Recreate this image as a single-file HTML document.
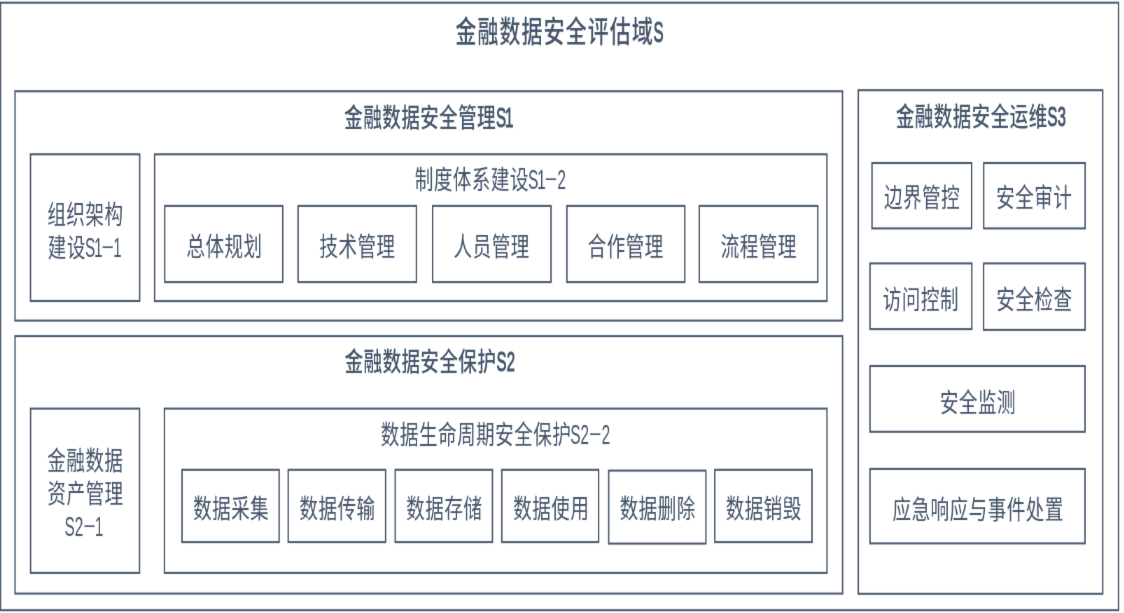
<!DOCTYPE html>
<html lang="zh-CN">
<head>
<meta charset="utf-8">
<title>金融数据安全评估域S</title>
<style>
html,body{margin:0;padding:0;background:#fff;}
body{width:1124px;height:613px;overflow:hidden;position:relative;}
#stage{position:absolute;left:0;top:0;width:1605.7px;height:613px;transform:scale(0.7,1);transform-origin:0 0;will-change:transform;filter:url(#soft);
  font-family:"Liberation Sans","Noto Sans CJK SC",sans-serif;color:#44546a;}
.bx{position:absolute;left:0;top:0;overflow:hidden;}
.t,.h1,.h2{position:absolute;white-space:nowrap;transform:translate(-50%,-50%);line-height:1;font-size:26.5px;font-weight:400;letter-spacing:.7px;text-indent:.7px;}
.h1{font-size:30px;font-weight:500;letter-spacing:1.5px;text-indent:1.5px;}
.h2{font-weight:500;letter-spacing:.6px;text-indent:.6px;}
.l{display:inline-block;text-indent:0;letter-spacing:0;transform:scale(0.82,1.04);transform-origin:0 70%;margin-left:-.9px;}
.h1 .l,.h2 .l{font-weight:400;-webkit-text-stroke:1px #44546a;font-size:1.04em;transform:scale(0.78,1);margin-left:0px;}
.h1 .l{font-size:.98em;transform:scale(.73,1);margin-left:-.6px;}
.n{margin:0 -.07em;}
.d{display:inline-block;transform:scale(2.7,.75) translateY(-.1em);margin:0 .25em;}
</style>
</head>
<body>
<svg width="0" height="0" style="position:absolute" aria-hidden="true"><defs><filter id="soft" x="0" y="0" width="100%" height="100%" color-interpolation-filters="sRGB"><feConvolveMatrix order="3" kernelMatrix="0.0055 0.0990 0.0055 0.0390 0.7020 0.0390 0.0055 0.0990 0.0055" edgeMode="duplicate" preserveAlpha="false"/></filter></defs></svg>
<div id="stage">
<svg class="bx" width="1605.7" height="613" viewBox="0 0 1605.7 613" fill="none" stroke="#44546a" stroke-width="2.0">
<rect x="0.64" y="2.70" width="1597.21" height="607.50"/>
<rect x="21.43" y="91.25" width="1182.14" height="229.35"/>
<rect x="43.57" y="154.30" width="155.93" height="146.70"/>
<rect x="220.86" y="154.30" width="960.43" height="146.80"/>
<rect x="235.29" y="205.90" width="168.64" height="76.20"/>
<rect x="425.86" y="205.90" width="169.00" height="76.20"/>
<rect x="618.00" y="205.90" width="169.14" height="76.20"/>
<rect x="809.86" y="205.90" width="168.43" height="76.20"/>
<rect x="998.93" y="205.90" width="169.29" height="76.20"/>
<rect x="21.43" y="336.10" width="1182.29" height="257.50"/>
<rect x="43.71" y="408.60" width="155.57" height="164.30"/>
<rect x="234.86" y="408.60" width="946.57" height="164.30"/>
<rect x="260.00" y="469.80" width="138.71" height="72.30"/>
<rect x="411.71" y="469.80" width="139.14" height="72.30"/>
<rect x="564.57" y="469.80" width="138.86" height="72.30"/>
<rect x="716.86" y="469.80" width="138.29" height="72.30"/>
<rect x="869.57" y="470.60" width="138.86" height="73.00"/>
<rect x="1021.14" y="469.80" width="138.86" height="72.30"/>
<rect x="1226.14" y="90.20" width="349.14" height="503.60"/>
<rect x="1245.71" y="163.00" width="142.29" height="65.40"/>
<rect x="1405.29" y="163.00" width="144.86" height="65.40"/>
<rect x="1242.86" y="263.40" width="145.43" height="65.70"/>
<rect x="1405.14" y="263.40" width="145.00" height="66.50"/>
<rect x="1242.86" y="366.00" width="307.14" height="65.80"/>
<rect x="1242.86" y="468.90" width="307.14" height="74.50"/>
</svg>
<div class="h1" style="left:798.53px;top:32.23px;">金融数据安全评估域<span class="l" style="margin-right:-0.176em">S</span></div>
<div class="h2" style="left:611.49px;top:118.17px;">金融数据安全管理<span class="l" style="margin-right:-0.248em">S<span class="n">1</span></span></div>
<div class="t" style="left:121.69px;top:214.53px;">组织架构</div>
<div class="t" style="left:120.14px;top:248.01px;">建设<span class="l" style="margin-right:-0.420em">S<span class="n">1</span><span class="d">-</span><span class="n">1</span></span></div>
<div class="t" style="left:700.17px;top:180.40px;">制度体系建设<span class="l" style="margin-right:-0.445em">S<span class="n">1</span><span class="d">-</span>2</span></div>
<div class="t" style="left:320.34px;top:246.74px;">总体规划</div>
<div class="t" style="left:510.30px;top:246.99px;">技术管理</div>
<div class="t" style="left:702.06px;top:247.37px;">人员管理</div>
<div class="t" style="left:893.53px;top:246.57px;">合作管理</div>
<div class="t" style="left:1083.63px;top:246.52px;">流程管理</div>
<div class="h2" style="left:613.34px;top:362.14px;">金融数据安全保护<span class="l" style="margin-right:-0.280em">S2</span></div>
<div class="t" style="left:121.59px;top:461.25px;">金融数据</div>
<div class="t" style="left:121.84px;top:494.10px;">资产管理</div>
<div class="t" style="left:119.70px;top:527.10px;"><span class="l" style="margin-right:-0.445em">S2<span class="d">-</span><span class="n">1</span></span></div>
<div class="t" style="left:707.69px;top:434.58px;">数据生命周期安全保护<span class="l" style="margin-right:-0.470em">S2<span class="d">-</span>2</span></div>
<div class="t" style="left:329.83px;top:509.37px;">数据采集</div>
<div class="t" style="left:481.84px;top:509.13px;">数据传输</div>
<div class="t" style="left:634.43px;top:509.30px;">数据存储</div>
<div class="t" style="left:787.17px;top:509.31px;">数据使用</div>
<div class="t" style="left:939.20px;top:508.89px;">数据删除</div>
<div class="t" style="left:1090.70px;top:509.34px;">数据销毁</div>
<div class="h2" style="left:1400.80px;top:116.74px;">金融数据安全运维<span class="l" style="margin-right:-0.280em">S3</span></div>
<div class="t" style="left:1316.87px;top:198.27px;">边界管控</div>
<div class="t" style="left:1477.13px;top:198.29px;">安全审计</div>
<div class="t" style="left:1315.17px;top:299.73px;">访问控制</div>
<div class="t" style="left:1477.41px;top:300.40px;">安全检查</div>
<div class="t" style="left:1396.73px;top:403.13px;">安全监测</div>
<div class="t" style="left:1397.03px;top:510.00px;">应急响应与事件处置</div>
</div>
</body>
</html>
